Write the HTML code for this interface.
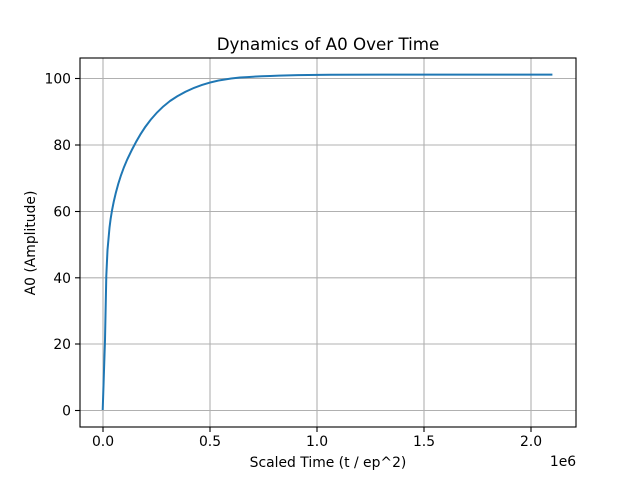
<!DOCTYPE html>
<html><head><meta charset="utf-8"><style>body{margin:0;background:#fff}</style></head><body>
<svg width="640" height="480" xmlns="http://www.w3.org/2000/svg" font-family="DejaVu Sans, Liberation Sans, sans-serif">
<rect width="640" height="480" fill="#fff"/>
<g stroke="#b0b0b0" stroke-width="1.1">
<line x1="103" y1="58" x2="103" y2="427"/><line x1="210" y1="58" x2="210" y2="427"/><line x1="317" y1="58" x2="317" y2="427"/><line x1="424" y1="58" x2="424" y2="427"/><line x1="531" y1="58" x2="531" y2="427"/>
<line x1="80" y1="410.5" x2="576" y2="410.5"/><line x1="80" y1="344" x2="576" y2="344"/><line x1="80" y1="277.8" x2="576" y2="277.8"/><line x1="80" y1="211.5" x2="576" y2="211.5"/><line x1="80" y1="145" x2="576" y2="145"/><line x1="80" y1="78.5" x2="576" y2="78.5"/>
</g>
<path fill="none" stroke="#1f77b4" stroke-width="2" stroke-linejoin="round" d="M102.7,410 L105,340 L106.3,276 L107.5,250 L109.5,227.7 C112,205 118,180 127,160 C138,136 150,116 170,101 C190,87 212,80 240,77.5 C270,75.3 300,74.9 330,74.7 L552.4,74.6"/>
<rect x="80" y="58" width="496" height="369" fill="none" stroke="#000" stroke-width="1.1"/>
<g stroke="#000" stroke-width="1.1">
<line x1="103" y1="427" x2="103" y2="432"/><line x1="210" y1="427" x2="210" y2="432"/><line x1="317" y1="427" x2="317" y2="432"/><line x1="424" y1="427" x2="424" y2="432"/><line x1="531" y1="427" x2="531" y2="432"/>
<line x1="75" y1="410.5" x2="80" y2="410.5"/><line x1="75" y1="344" x2="80" y2="344"/><line x1="75" y1="277.8" x2="80" y2="277.8"/><line x1="75" y1="211.5" x2="80" y2="211.5"/><line x1="75" y1="145" x2="80" y2="145"/><line x1="75" y1="78.5" x2="80" y2="78.5"/>
</g>
<g font-size="13.9" fill="#000" text-anchor="middle">
<text x="103" y="446">0.0</text><text x="210" y="446">0.5</text><text x="317" y="446">1.0</text><text x="424" y="446">1.5</text><text x="531" y="446">2.0</text>
<text x="563" y="466">1e6</text>
</g>
<g font-size="13.9" fill="#000" text-anchor="end">
<text x="71" y="415.5">0</text><text x="71" y="349">20</text><text x="71" y="283">40</text><text x="71" y="216.5">60</text><text x="71" y="150">80</text><text x="71" y="83.5">100</text>
</g>
<text x="328" y="467" font-size="13.9" text-anchor="middle">Scaled Time (t / ep^2)</text>
<text transform="translate(35,243) rotate(-90)" font-size="13.9" text-anchor="middle">A0 (Amplitude)</text>
<text x="328" y="50" font-size="16.7" text-anchor="middle">Dynamics of A0 Over Time</text>
</svg>
</body></html>
